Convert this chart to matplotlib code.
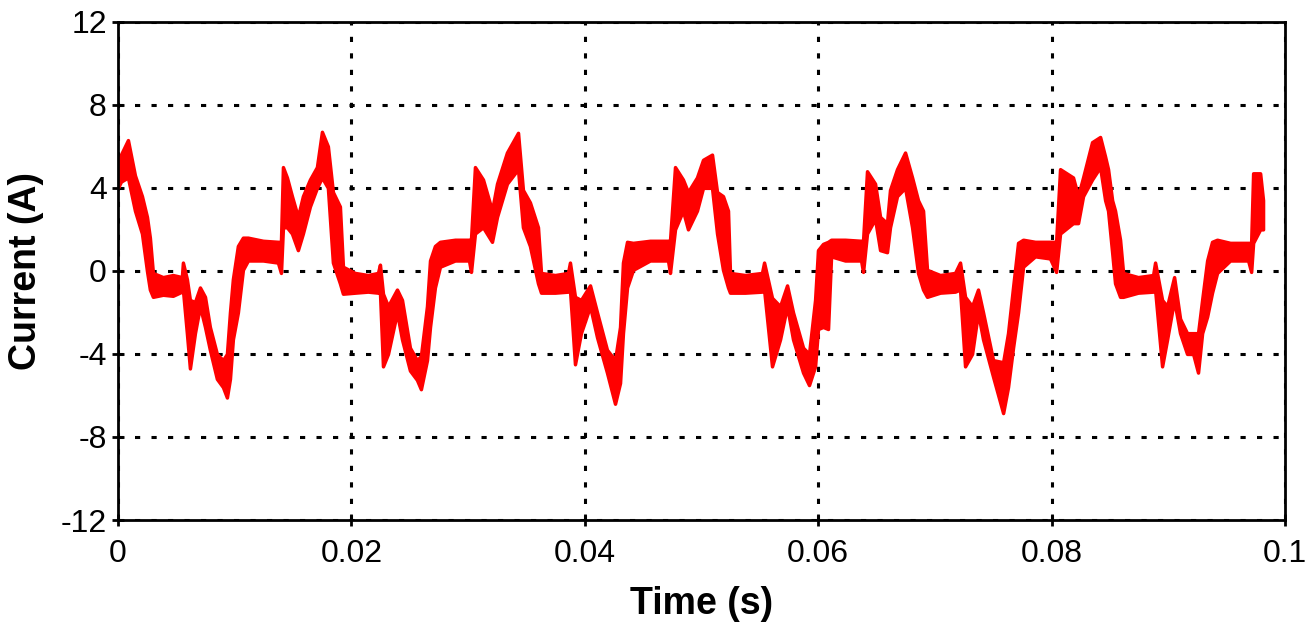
import matplotlib
matplotlib.use("Agg")
import matplotlib.pyplot as plt
import numpy as np

# time in ms, upper / lower envelope of the switching-ripple band (A)
t_ms = [0.00, 0.26, 0.86, 1.46, 2.06, 2.49, 2.74, 3.00, 3.86, 4.71, 5.48, 5.57, 5.91, 6.17,
        6.60, 7.03, 7.46, 7.88, 8.48, 9.00, 9.34, 9.60, 9.85, 10.28, 10.71, 11.14, 12.43,
        13.71, 13.97, 14.14, 14.48, 14.91, 15.42, 15.85, 16.45, 17.05, 17.48, 17.99, 18.42,
        19.02, 19.28, 20.31, 21.42, 22.28, 22.45, 22.71, 23.14, 23.91, 24.34, 25.02, 25.62,
        25.96, 26.48, 26.74, 27.16, 27.59, 28.88, 30.08, 30.25, 30.59, 31.28, 32.05, 32.48,
        33.33, 34.28, 34.70, 35.30, 35.99, 36.25, 37.45, 38.56, 38.73, 39.16, 39.67, 40.45,
        41.05, 41.90, 42.59, 43.02, 43.27, 43.62, 44.13, 45.59, 47.13, 47.30, 47.73, 48.41,
        48.84, 49.61, 50.13, 50.90, 51.33, 51.84, 52.27, 52.44, 53.73, 55.18, 55.36, 56.04,
        56.73, 57.33, 57.84, 58.70, 59.21, 59.73, 59.98, 60.41, 60.84, 61.10, 62.30, 63.67,
        63.84, 64.18, 64.87, 65.30, 65.89, 66.15, 66.75, 67.44, 68.04, 68.55, 68.98, 69.32,
        70.44, 71.72, 72.15, 72.58, 73.18, 73.69, 74.12, 74.98, 75.84, 76.26, 76.69, 77.12,
        77.55, 78.58, 79.86, 80.38, 80.72, 81.83, 82.26, 82.69, 83.46, 84.15, 84.58, 84.83,
        85.18, 85.43, 85.86, 86.12, 87.40, 88.69, 88.86, 89.46, 89.89, 90.49, 91.00, 91.60,
        92.12, 92.54, 92.89, 93.32, 93.74, 94.17, 95.29, 96.83, 97.09, 97.26, 97.86, 98.11]

i_upper = [5.0, 5.6, 6.3, 4.6, 3.6, 2.6, 1.6, -0.1, -0.3, -0.2, -0.3, 0.4, -0.4, -1.4,
           -1.5, -0.8, -1.25, -2.7, -4.0, -4.3, -4.0, -2.0, -0.4, 1.2, 1.6, 1.6, 1.45,
           1.4, 1.4, 5.0, 4.5, 3.6, 2.6, 3.6, 4.4, 5.0, 6.7, 6.0, 3.8,
           3.1, 0.2, -0.1, -0.2, -0.1, 0.3, -1.1, -1.7, -0.9, -1.4, -3.7, -4.3,
           -4.1, -1.7, 0.5, 1.2, 1.4, 1.5, 1.5, 1.5, 5.0, 4.4, 2.9, 4.2,
           5.7, 6.65, 3.9, 3.3, 2.1, -0.1, -0.2, -0.1, 0.4, -1.25, -1.4, -0.7,
           -2.0, -3.8, -4.3, -2.7, 0.4, 1.4, 1.35, 1.45, 1.45, 1.45, 5.0, 4.4,
           3.8, 4.5, 5.35, 5.6, 3.8, 3.6, 2.9, -0.1, -0.2, -0.1, 0.4, -1.3,
           -1.7, -0.7, -2.0, -3.7, -4.0, -1.4, 1.0, 1.3, 1.4, 1.5, 1.5, 1.45,
           1.45, 4.8, 4.2, 2.6, 2.3, 3.9, 4.9, 5.7, 4.5, 3.4, 2.9, 0.05,
           -0.2, -0.1, 0.4, -1.25, -1.7, -0.9, -2.0, -4.3, -4.4, -3.0, -0.8, 1.35,
           1.5, 1.4, 1.4, 1.4, 4.9, 4.5, 3.6, 4.5, 6.2, 6.45, 5.5, 4.9,
           3.4, 2.9, 1.5, -0.1, -0.3, -0.2, 0.4, -1.4, -1.7, -0.3, -2.3, -3.0,
           -3.0, -3.0, -1.4, 0.5, 1.4, 1.5, 1.35, 1.35, 1.35, 4.7, 4.7, 3.4]

i_lower = [4.0, 4.3, 4.5, 2.9, 1.8, 0.0, -0.9, -1.25, -1.15, -1.2, -1.0, -0.9, -3.0, -4.7,
           -3.0, -1.7, -2.7, -3.8, -5.2, -5.6, -6.1, -5.2, -3.3, -2.0, 0.05, 0.5, 0.5,
           0.4, -0.1, 2.1, 2.1, 1.8, 1.0, 1.8, 3.1, 4.0, 4.5, 4.0, 0.4,
           -0.6, -1.1, -1.05, -1.0, -1.05, -1.0, -4.6, -4.0, -2.0, -3.3, -4.8, -5.25,
           -5.7, -4.3, -2.7, -0.8, 0.2, 0.5, 0.5, -0.05, 1.8, 2.1, 1.4, 2.6,
           4.2, 4.9, 2.1, 1.2, -0.6, -1.05, -1.05, -1.0, -0.9, -4.5, -3.0, -1.7,
           -3.2, -4.9, -6.4, -5.4, -3.0, -0.8, 0.05, 0.5, 0.5, -0.1, 2.0, 2.9,
           2.0, 2.9, 4.0, 4.0, 1.8, 0.05, -0.8, -1.05, -1.05, -1.0, -0.9, -4.6,
           -3.3, -1.7, -3.3, -4.9, -5.5, -4.6, -2.8, -2.7, -2.8, 0.7, 0.5, 0.5,
           -0.05, 1.8, 2.5, 1.0, 0.9, 2.1, 3.6, 4.0, 2.1, -0.1, -0.9, -1.25,
           -1.05, -1.0, -0.9, -4.6, -4.0, -2.0, -3.3, -5.1, -6.85, -5.6, -3.7, -2.0,
           0.2, 0.7, 0.6, -0.05, 1.8, 2.3, 2.3, 3.6, 4.4, 5.0, 3.4, 2.9,
           0.9, -0.6, -1.25, -1.25, -1.05, -1.0, -0.9, -4.6, -3.3, -1.4, -3.0, -4.0,
           -4.0, -4.9, -3.0, -2.2, -1.05, -0.1, 0.5, 0.5, -0.05, 1.35, 2.0, 2.0]

x_ticks = [0, 0.02, 0.04, 0.06, 0.08, 0.1]
x_tick_labels = ["0", "0.02", "0.04", "0.06", "0.08", "0.1"]
y_ticks = [-12, -8, -4, 0, 4, 8, 12]

plt.rcParams['font.family'] = ['Liberation Sans', 'DejaVu Sans']
plt.rcParams['axes.unicode_minus'] = False

t = np.array(t_ms) / 1000.0

fig = plt.figure(figsize=(13.1, 6.4), dpi=100)
ax = fig.add_axes([0.090, 0.1875, 0.891, 0.7785])

ax.fill_between(t, i_lower, i_upper, color='#ff0000', linewidth=2.5,
                edgecolor='#ff0000', zorder=3)

ax.set_xlim(0, 0.1)
ax.set_ylim(-12, 12)
ax.set_xticks(x_ticks)
ax.set_xticklabels(x_tick_labels)
ax.set_yticks(y_ticks)

ax.grid(True, color='black', linestyle=(0, (1.7, 3.7)), linewidth=2.2)
ax.set_axisbelow(True)
for s in ax.spines.values():
    s.set_linewidth(2.0)
    s.set_color('black')
    s.set_zorder(4)

ax.tick_params(axis='both', direction='inout', length=8, width=2.0,
               labelsize=23, colors='black')
ax.tick_params(axis='x', pad=10)
ax.tick_params(axis='y', pad=4)

ax.set_xlabel('Time (s)', fontsize=27, fontweight='bold', labelpad=12)
ax.set_ylabel('Current (A)', fontsize=27, fontweight='bold', labelpad=12)

fig.savefig('out.png', dpi=100)
